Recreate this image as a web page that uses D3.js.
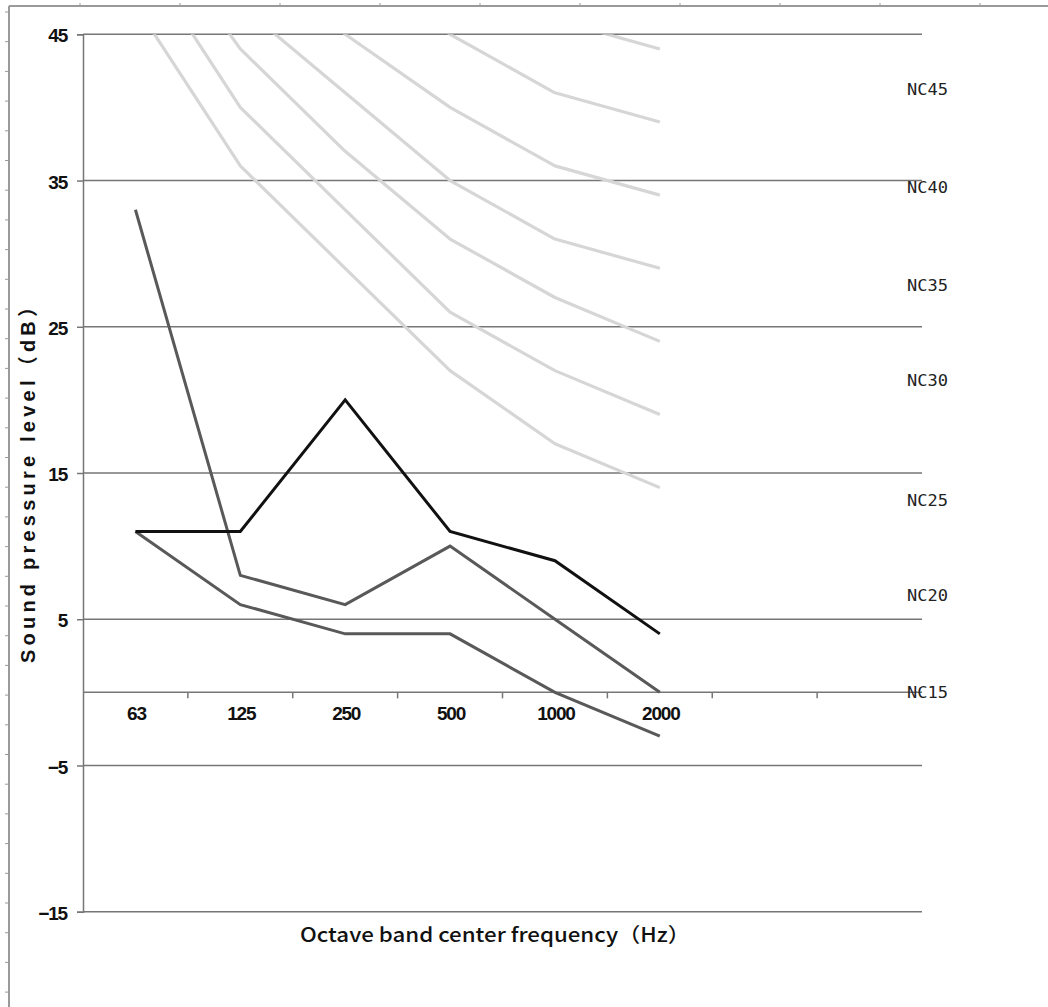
<!DOCTYPE html>
<html>
<head>
<meta charset="utf-8">
<script src="https://cdn.jsdelivr.net/npm/d3@7"></script>
<style>
  html, body { margin: 0; padding: 0; background: #fff; }
  svg { display: block; }
</style>
</head>
<body>
<svg id="chart" width="1048" height="1007"></svg>
<script>
// ---- data ----
const categories = ["63", "125", "250", "500", "1000", "2000", "4000", "8000"];
const tickLabels = ["63", "125", "250", "500", "1000", "2000", "", ""];
const yTicks = [45, 35, 25, 15, 5, -5, -15];

// NC reference curves (63 .. 2000 Hz)
const nc15 = [47, 36, 29, 22, 17, 14];
const nc20 = [51, 40, 33, 26, 22, 19];
const nc25 = [54, 44, 37, 31, 27, 24];
const nc30 = [57, 47, 41, 35, 31, 29];
const nc35 = [60, 52, 45, 40, 36, 34];
const nc40 = [64, 56, 50, 45, 41, 39];
const nc45 = [67, 60, 54, 49, 46, 44];
const ncCurves = [nc15, nc20, nc25, nc30, nc35, nc40, nc45];

const ncLabels = ["NC45", "NC40", "NC35", "NC30", "NC25", "NC20", "NC15"];
const ncLabelLevels = [41.2, 34.5, 27.8, 21.3, 13.1, 6.6, 0];

// measured spectra (63 .. 2000 Hz)
const seriesBlack = [11, 11, 20, 11, 9, 4];
const seriesGrayA = [33, 8, 6, 10, 5, 0];
const seriesGrayB = [11, 6, 4, 4, 0, -3];

// ---- layout ----
const svg = d3.select("#chart");
const plot = { left: 83, right: 922, top: 34.3, bottom: 911.7 };

const x = d3.scaleBand().domain(d3.range(categories.length)).range([plot.left, plot.right]).paddingInner(0).paddingOuter(0);
const y = d3.scaleLinear().domain([-15, 45]).range([plot.bottom, plot.top]);
const cx = i => x(i) + x.bandwidth() / 2;

// ---- outer frame with ruler ticks ----
const frame = svg.append("g").attr("stroke", "#9a9a9a").attr("fill", "none");
frame.append("line").attr("x1", 9).attr("x2", 1048).attr("y1", 6).attr("y2", 6).attr("stroke-width", 2);
frame.append("line").attr("x1", 9).attr("x2", 9).attr("y1", 6).attr("y2", 1007).attr("stroke-width", 2);
frame.selectAll("line.tt").data(d3.range(80, 1048, 100)).enter().append("line")
  .attr("x1", d => d).attr("x2", d => d).attr("y1", 3).attr("y2", 6).attr("stroke-width", 1);
frame.selectAll("line.lt").data(d3.range(12, 1007, 29.7)).enter().append("line")
  .attr("x1", 5).attr("x2", 9).attr("y1", d => d).attr("y2", d => d).attr("stroke-width", 1);

// ---- gridlines ----
svg.append("g").selectAll("line").data(yTicks).enter().append("line")
  .attr("x1", plot.left).attr("x2", plot.right)
  .attr("y1", d => y(d)).attr("y2", d => y(d))
  .attr("stroke", "#767676").attr("stroke-width", 1.5);

// ---- y axis ----
const yAxis = svg.append("g").attr("transform", `translate(${plot.left},0)`)
  .call(d3.axisLeft(y).tickValues(yTicks).tickSize(6).tickPadding(10).tickFormat(d3.format("d")));
yAxis.select(".domain").attr("stroke", "#767676").attr("stroke-width", 1.5);
yAxis.selectAll(".tick line").attr("stroke", "#767676").attr("stroke-width", 1.5);
yAxis.selectAll(".tick text")
  .attr("font-family", "'Liberation Sans', Arial, sans-serif")
  .attr("font-size", 19).attr("font-weight", "bold").attr("letter-spacing", "-1.2px")
  .attr("fill", "#111").attr("dy", "0.4em");

// ---- x axis at 0 ----
const xg = svg.append("g");
xg.append("line").attr("x1", plot.left).attr("x2", plot.right)
  .attr("y1", y(0)).attr("y2", y(0)).attr("stroke", "#767676").attr("stroke-width", 1.5);
xg.selectAll("line.tk").data(d3.range(1, categories.length)).enter().append("line")
  .attr("x1", d => x(d)).attr("x2", d => x(d))
  .attr("y1", y(0)).attr("y2", y(0) + 6)
  .attr("stroke", "#767676").attr("stroke-width", 1.5);
xg.selectAll("text").data(d3.range(categories.length)).enter().append("text")
  .attr("x", d => cx(d) + 1).attr("y", y(0) + 28)
  .attr("text-anchor", "middle")
  .attr("font-family", "'Liberation Sans', Arial, sans-serif")
  .attr("font-size", 19).attr("font-weight", "bold").attr("letter-spacing", "-1.2px")
  .attr("fill", "#111")
  .text(d => tickLabels[d]);

// ---- clip ----
svg.append("defs").append("clipPath").attr("id", "clip")
  .append("rect").attr("x", plot.left).attr("y", plot.top)
  .attr("width", plot.right - plot.left).attr("height", plot.bottom - plot.top);

const line = d3.line().x((d, i) => cx(i)).y(d => y(d));

// ---- NC curves ----
svg.append("g").attr("clip-path", "url(#clip)")
  .selectAll("path").data(ncCurves).enter().append("path")
  .attr("d", line).attr("fill", "none")
  .attr("stroke", "#d6d6d6").attr("stroke-width", 3.2).attr("stroke-linejoin", "round");

// ---- measured series ----
const dataG = svg.append("g").attr("clip-path", "url(#clip)");
[[seriesGrayB, "#595959"], [seriesGrayA, "#595959"], [seriesBlack, "#111111"]].forEach(([s, c]) => {
  dataG.append("path").datum(s).attr("d", line).attr("fill", "none")
    .attr("stroke", c).attr("stroke-width", 3).attr("stroke-linejoin", "miter");
});

// ---- NC labels ----
svg.append("g").selectAll("text").data(ncLabels).enter().append("text")
  .attr("x", 907).attr("y", (d, i) => y(ncLabelLevels[i]))
  .attr("dy", "0.35em")
  .attr("font-family", "'DejaVu Sans Mono', 'Liberation Mono', monospace")
  .attr("font-size", 16).attr("fill", "#222")
  .attr("textLength", 41).attr("lengthAdjust", "spacingAndGlyphs")
  .text(d => d);

// ---- axis titles ----
svg.append("text")
  .attr("transform", "translate(35,480) rotate(-90)")
  .attr("text-anchor", "middle")
  .attr("font-family", "'Liberation Sans', Arial, 'Noto Sans CJK JP', sans-serif")
  .attr("font-size", 20).attr("font-weight", "bold").attr("fill", "#111")
  .attr("textLength", 366).attr("lengthAdjust", "spacing")
  .text("Sound pressure level（dB）");

svg.append("text")
  .attr("x", 495).attr("y", 942)
  .attr("text-anchor", "middle")
  .attr("font-family", "'Noto Sans CJK JP', 'Noto Sans', sans-serif")
  .attr("font-size", 20).attr("font-weight", 500).attr("fill", "#111")
  .attr("textLength", 390).attr("lengthAdjust", "spacingAndGlyphs")
  .text("Octave band center frequency（Hz）");
</script>
</body>
</html>
